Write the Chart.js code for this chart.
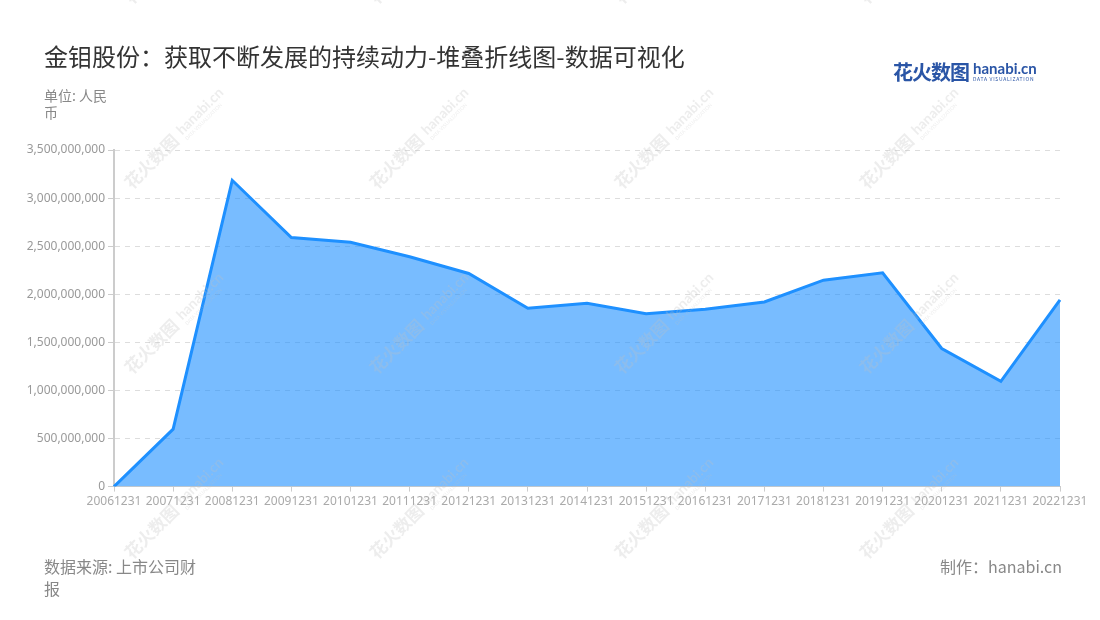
<!DOCTYPE html>
<html>
<head>
<meta charset="utf-8">
<script src="https://cdn.jsdelivr.net/npm/chart.js@4"></script>
<style>
body { margin: 0; background: #fff; font-family: "Noto Sans CJK SC", "Noto Sans", sans-serif; }
#wrap { position: relative; width: 1100px; height: 620px; overflow: hidden; }
#myChart { position: absolute; left: 0; top: 0; }
#title { position: absolute; left: 44px; top: 38px; font-size: 24px; color: #333; white-space: nowrap; }
#unit { position: absolute; left: 44px; top: 87px; width: 70px; font-size: 14px; line-height: 17px; color: #888; }
#src { position: absolute; left: 44px; top: 555px; width: 162px; font-size: 16px; line-height: 22px; color: #888; }
#maker { position: absolute; right: 38px; top: 555px; font-size: 16px; line-height: 22px; color: #888; }
#logo { position: absolute; left: 893px; top: 57px; white-space: nowrap; }
#logo .cn { font-size: 20px; font-weight: bold; color: #2a55a6; vertical-align: top; letter-spacing: -1px; }
#logo .en { display: inline-block; vertical-align: top; margin-left: 4px; }
#logo .en b { display: block; font-family: "Lato", sans-serif; font-size: 15px; line-height: 16px; color: #2a55a6; margin-top: 3px; }
#logo .en i { display: block; font-style: normal; font-size: 5px; line-height: 6px; letter-spacing: 0.7px; color: #2a55a6; }
</style>
</head>
<body>
<div id="wrap">
  <canvas id="myChart" width="1100" height="620"></canvas>
  <div id="title">金钼股份：获取不断发展的持续动力-堆叠折线图-数据可视化</div>
  <div id="unit">单位: 人民币</div>
  <div id="logo"><span class="cn">花火数图</span><span class="en"><b>hanabi.cn</b><i>DATA VISUALIZATION</i></span></div>
  <div id="src">数据来源: 上市公司财报</div>
  <div id="maker">制作：hanabi.cn</div>
</div>
<script>
let years = ['20061231', '20071231', '20081231', '20091231', '20101231', '20111231',
             '20121231', '20131231', '20141231', '20151231', '20161231', '20171231',
             '20181231', '20191231', '20201231', '20211231', '20221231'];

// in yuan
let values = [0, 597000000, 3185000000, 2589000000, 2540000000, 2390000000,
              2216000000, 1854000000, 1906000000, 1798000000, 1843000000, 1920000000,
              2146000000, 2223000000, 1436000000, 1094000000, 1941000000];

// faint repeated watermark
const watermark = {
    id: 'watermark',
    afterDraw(chart) {
        const ctx = chart.ctx;
        ctx.save();
        ctx.fillStyle = 'rgba(190,190,190,0.28)';
        for (let row = 0; row < 4; row++) {
            for (let col = 0; col < 4; col++) {
                let cx = 132 + col * 245;
                let cy = 5 + row * 185;
                ctx.save();
                ctx.translate(cx, cy);
                ctx.rotate(-Math.PI / 4);
                ctx.font = 'bold 17px "Noto Sans CJK SC"';
                ctx.fillText('花火数图', 0, 0);
                ctx.font = 'bold 14px Lato';
                ctx.fillText('hanabi.cn', 74, -3);
                ctx.font = '5px "Noto Sans"';
                ctx.fillText('DATA VISUALIZATION', 74, 4);
                ctx.restore();
            }
        }
        ctx.restore();
    }
};

new Chart("myChart", {
    type: "line",
    data: {
        labels: years,
        datasets: [{
            label: '金额',
            data: values,
            borderColor: "#1e90ff",
            backgroundColor: "rgba(30,144,255,0.6)",
            borderWidth: 3,
            pointRadius: 0,
            tension: 0,
            fill: 'origin'
        }]
    },
    options: {
        responsive: false,
        animation: false,
        devicePixelRatio: 1,
        layout: {
            padding: { left: 0, top: 150, right: 40, bottom: 108 }
        },
        plugins: {
            legend: { display: false },
            tooltip: { enabled: false }
        },
        scales: {
            x: {
                grid: { drawOnChartArea: false, tickLength: 5, color: '#ccc' },
                border: { color: '#ccc' },
                ticks: {
                    color: '#aaa', maxRotation: 0, autoSkip: false, padding: 3,
                    font: { family: '"Noto Sans"', size: 12 }
                }
            },
            y: {
                min: 0,
                max: 3500000000,
                afterFit(scale) { scale.width = 114; },
                grid: { color: '#ddd', tickLength: 6, tickColor: '#ccc', tickBorderDash: [] },
                border: { color: '#ccc', width: 2, dash: [5, 5] },
                ticks: {
                    stepSize: 500000000,
                    color: '#999', padding: 3,
                    font: { family: '"Noto Sans"', size: 12 },
                    callback: v => v.toLocaleString('en-US')
                }
            }
        }
    },
    plugins: [watermark]
});
</script>
</body>
</html>
